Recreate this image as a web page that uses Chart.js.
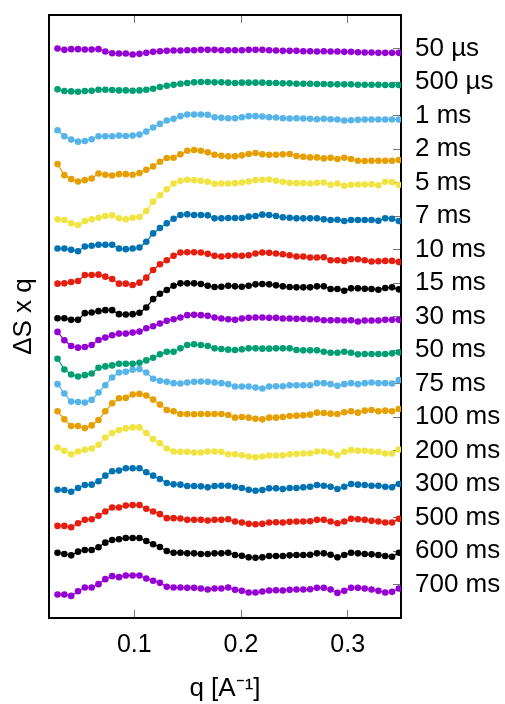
<!DOCTYPE html>
<html><head><meta charset="utf-8">
<script src="https://cdn.jsdelivr.net/npm/chart.js@4/dist/chart.umd.min.js"></script>
<style>html,body{margin:0;padding:0;background:#fff}canvas{display:block}</style>
</head><body>
<canvas id="c" width="505" height="704"></canvas>
<script>
// scattering vector q [1/A]
const q = [0.0280,0.0344,0.0408,0.0472,0.0536,0.0600,0.0664,0.0728,0.0792,0.0856,0.0920,0.0984,0.1048,0.1112,0.1176,0.1240,0.1304,0.1368,0.1432,0.1496,0.1560,0.1624,0.1688,0.1752,0.1816,0.1880,0.1944,0.2008,0.2072,0.2136,0.2200,0.2264,0.2328,0.2392,0.2456,0.2520,0.2584,0.2648,0.2712,0.2776,0.2840,0.2904,0.2968,0.3032,0.3096,0.3160,0.3224,0.3288,0.3352,0.3416,0.3480];

// time delays (right axis tick labels), top to bottom
const delays = ['50 µs','500 µs','1 ms','2 ms','5 ms','7 ms','10 ms','15 ms','30 ms','50 ms','75 ms','100 ms','200 ms','300 ms','500 ms','600 ms','700 ms'];

// x axis tick labels
const xTicks = [0.1, 0.2, 0.3];

// ΔS·q difference curves (before vertical offset)
const s50us = [0,-.04,-.02,-.02,-.03,-.03,-.02,-.09,-.14,-.15,-.15,-.18,-.16,-.13,-.10,-.08,-.07,-.06,-.06,-.05,-.05,-.04,-.04,-.04,-.05,-.05,-.05,-.05,-.04,-.04,-.04,-.05,-.06,-.07,-.07,-.07,-.08,-.08,-.09,-.08,-.09,-.09,-.10,-.10,-.11,-.12,-.12,-.13,-.13,-.13,-.13];
const s500us = [-.22,-.27,-.28,-.29,-.27,-.26,-.23,-.23,-.24,-.25,-.25,-.26,-.25,-.23,-.20,-.15,-.11,-.08,-.05,-.03,-.01,0,0,-.01,-.01,-.02,-.03,-.02,-.02,-.02,-.02,-.03,-.03,-.04,-.04,-.05,-.05,-.05,-.06,-.06,-.07,-.07,-.07,-.07,-.08,-.08,-.08,-.08,-.09,-.09,-.09];
const s1ms = [-.44,-.62,-.72,-.78,-.76,-.71,-.62,-.62,-.62,-.60,-.61,-.60,-.57,-.48,-.36,-.25,-.15,-.10,-.02,.03,.03,.03,.02,-.05,-.07,-.08,-.08,-.05,-.02,-.02,-.03,-.05,-.06,-.08,-.09,-.08,-.09,-.10,-.11,-.10,-.11,-.12,-.15,-.14,-.13,-.12,-.12,-.12,-.12,-.12,-.12];
const s2ms = [-.45,-.78,-.90,-.97,-.93,-.88,-.73,-.77,-.79,-.75,-.75,-.77,-.72,-.62,-.52,-.38,-.27,-.26,-.16,-.05,-.03,-.05,-.10,-.17,-.20,-.22,-.22,-.19,-.15,-.12,-.16,-.17,-.17,-.16,-.15,-.21,-.23,-.25,-.25,-.28,-.26,-.30,-.26,-.30,-.35,-.36,-.35,-.35,-.35,-.35,-.33];
const s5ms = [-1.10,-1.12,-1.22,-1.27,-1.15,-1.10,-1.05,-1.00,-.98,-1.07,-1.10,-1.05,-1.03,-.85,-.57,-.38,-.20,-.03,.05,.08,.07,.05,.02,-.04,-.03,-.03,-.02,0,.03,.07,.08,.09,.05,.02,-.01,-.02,-.02,-.03,-.01,0,-.07,-.03,-.10,-.07,-.06,-.06,-.05,-.08,.02,.01,-.07];
const s7ms = [-.97,-.97,-1.01,-1.05,-.91,-.89,-.86,-.86,-.86,-.97,-.99,-.97,-.94,-.77,-.52,-.36,-.22,-.08,.03,.05,.03,.03,.02,-.07,-.07,-.06,-.06,-.06,-.02,0,.04,.03,0,-.04,-.05,-.07,-.07,-.07,-.07,-.10,-.12,-.11,-.15,-.12,-.12,-.12,-.12,-.14,-.07,-.08,-.15];
const s10ms = [-1.02,-1.01,-.97,-.94,-.76,-.76,-.75,-.81,-.88,-1.02,-1.02,-1.06,-.99,-.84,-.61,-.44,-.32,-.19,-.09,-.08,-.08,-.09,-.13,-.19,-.21,-.19,-.18,-.19,-.17,-.12,-.09,-.10,-.12,-.14,-.17,-.21,-.21,-.24,-.24,-.23,-.32,-.32,-.34,-.29,-.29,-.32,-.36,-.35,-.34,-.34,-.37];
const s15ms = [-1.05,-1.05,-1.10,-1.10,-.90,-.88,-.84,-.81,-.81,-.93,-.94,-.93,-.89,-.73,-.48,-.32,-.21,-.08,-.01,-.01,-.01,-.03,-.08,-.12,-.11,-.08,-.10,-.11,-.08,-.04,-.03,-.04,-.07,-.10,-.12,-.13,-.13,-.13,-.10,-.10,-.18,-.18,-.23,-.16,-.16,-.17,-.18,-.20,-.15,-.13,-.19];
const s30ms = [-.46,-.71,-.88,-.93,-.91,-.85,-.70,-.63,-.56,-.51,-.51,-.48,-.45,-.35,-.29,-.21,-.13,-.08,-.03,.04,.05,.04,.02,-.03,-.06,-.08,-.10,-.06,-.04,-.03,-.03,-.04,-.04,-.06,-.06,-.07,-.07,-.08,-.08,-.11,-.11,-.11,-.12,-.11,-.15,-.12,-.12,-.12,-.10,-.10,-.10];
const s50ms = [-.26,-.58,-.73,-.79,-.75,-.70,-.53,-.49,-.46,-.41,-.41,-.41,-.38,-.31,-.23,-.13,-.05,-.05,.05,.15,.17,.15,.12,.05,.03,.01,0,.02,.05,.05,.04,.04,.05,.05,.05,0,-.01,-.01,-.01,-.05,-.08,-.08,-.05,-.08,-.13,-.12,-.12,-.12,-.12,-.10,-.07];
const s75ms = [-.02,-.30,-.54,-.55,-.57,-.49,-.27,-.05,.18,.33,.35,.41,.43,.33,.14,.08,.05,.01,0,.03,.05,.06,.05,.03,.01,-.02,-.09,-.09,-.09,-.12,-.15,-.09,-.08,-.08,-.05,-.05,-.05,-.05,.01,.01,-.02,-.07,-.02,.01,-.02,.01,.03,.01,.01,0,.10];
const s100ms = [.17,-.07,-.27,-.27,-.33,-.25,-.09,.17,.41,.56,.57,.67,.69,.64,.52,.37,.21,.17,.09,.09,.08,.09,.09,.09,.09,.06,-.02,0,-.02,-.05,-.07,-.02,-.02,0,.03,.04,.05,.07,.13,.12,.10,.09,.14,.17,.13,.19,.21,.17,.19,.17,.24];
const s200ms = [.09,-.01,-.11,-.03,.02,.06,.17,.39,.52,.61,.66,.69,.69,.52,.34,.22,.06,-.03,-.04,-.04,-.06,-.06,-.03,-.03,-.04,-.11,-.11,-.14,-.18,-.20,-.18,-.15,-.15,-.14,-.11,-.10,-.09,-.08,-.03,-.03,-.07,-.14,-.04,.01,-.01,-.01,-.03,-.04,-.09,-.09,.03];
const s300ms = [-.17,-.18,-.23,-.12,-.03,-.02,.08,.25,.38,.40,.47,.47,.47,.35,.25,.15,.03,-.01,-.02,-.06,-.06,-.07,-.10,-.06,-.05,-.05,-.09,-.12,-.17,-.20,-.18,-.13,-.13,-.15,-.12,-.12,-.10,-.08,-.03,-.05,-.08,-.15,-.08,0,-.02,-.03,-.05,-.05,-.08,-.10,0];
const s500ms = [-.25,-.25,-.29,-.17,-.07,-.05,.05,.18,.30,.30,.36,.37,.37,.26,.18,.10,-.02,-.02,-.03,-.07,-.07,-.07,-.09,-.07,-.07,-.05,-.12,-.15,-.19,-.20,-.19,-.15,-.14,-.15,-.13,-.12,-.12,-.11,-.07,-.07,-.12,-.17,-.12,-.04,-.05,-.07,-.10,-.12,-.15,-.15,-.04];
const s600ms = [-.05,-.09,-.13,-.02,.03,.03,.11,.25,.33,.35,.39,.39,.39,.30,.20,.12,0,-.05,-.05,-.07,-.07,-.09,-.09,-.07,-.07,-.05,-.12,-.14,-.19,-.20,-.19,-.15,-.15,-.15,-.13,-.12,-.12,-.11,-.07,-.07,-.11,-.19,-.12,-.05,-.07,-.09,-.10,-.12,-.15,-.17,-.05];
const s700ms = [-.30,-.30,-.34,-.20,-.09,-.09,.01,.16,.25,.22,.27,.27,.27,.18,.11,.05,-.07,-.09,-.09,-.10,-.10,-.12,-.15,-.12,-.12,-.09,-.16,-.19,-.24,-.24,-.21,-.18,-.17,-.18,-.16,-.15,-.15,-.14,-.10,-.10,-.15,-.25,-.19,-.10,-.10,-.12,-.15,-.19,-.24,-.22,-.12];

const series = [s50us,s500us,s1ms,s2ms,s5ms,s7ms,s10ms,s15ms,s30ms,s50ms,s75ms,s100ms,s200ms,s300ms,s500ms,s600ms,s700ms];
const colors = ['#9400D3','#009E73','#56B4E9','#E69F00','#F0E442','#0072B2','#E51E10','#000000'];

const FONT = '"Liberation Sans", Arial, Helvetica, sans-serif';
const N = delays.length;

const datasets = series.map((vals, k) => ({
  label: delays[k],
  data: vals.map((v, i) => ({x: q[i], y: (N - 1 - k) + v})),
  borderColor: colors[k % colors.length],
  backgroundColor: colors[k % colors.length],
  borderWidth: 1.2,
  pointRadius: 3.3,
  pointBorderWidth: 0,
  pointHoverRadius: 3.3,
  tension: 0
}));

const tickGrid = {display: true, drawOnChartArea: false, drawTicks: true, tickLength: -8, color: '#777', lineWidth: 1};
const blackBorder = {display: true, color: '#000', width: 2};
function fix(size, horiz) {
  return s => {
    if (horiz) s.height = size; else s.width = size;
    s.paddingTop = 0; s.paddingBottom = 0; s.paddingLeft = 0; s.paddingRight = 0;
  };
}

new Chart(document.getElementById('c'), {
  type: 'line',
  data: {datasets},
  options: {
    responsive: false,
    animation: false,
    devicePixelRatio: 1,
    layout: {padding: 0},
    plugins: {legend: {display: false}, tooltip: {enabled: false}},
    scales: {
      x: {
        type: 'linear', position: 'bottom', min: 0.02, max: 0.35,
        afterBuildTicks: s => { s.ticks = xTicks.map(v => ({value: v})); },
        ticks: {font: {family: FONT, size: 25}, color: '#000', padding: 20, maxRotation: 0, callback: v => v.toFixed(1)},
        grid: tickGrid,
        border: blackBorder,
        title: {display: true, text: 'q [A⁻¹]', font: {family: FONT, size: 26}, color: '#000', padding: {top: 0, bottom: 0}},
        afterFit: fix(86, true)
      },
      xTop: {
        type: 'linear', position: 'top', min: 0.02, max: 0.35,
        afterBuildTicks: s => { s.ticks = xTicks.map(v => ({value: v})); },
        ticks: {display: false},
        grid: tickGrid,
        border: blackBorder,
        afterFit: fix(15, true)
      },
      y: {
        type: 'linear', position: 'left', min: -1, max: N,
        ticks: {display: false},
        grid: {display: true, drawOnChartArea: false, drawTicks: false},
        border: blackBorder,
        title: {display: true, text: 'ΔS x q', font: {family: FONT, size: 26}, color: '#000', padding: {top: 8, bottom: 0}},
        afterFit: fix(49, false)
      },
      yRight: {
        type: 'linear', position: 'right', min: -1, max: N,
        afterBuildTicks: s => { s.ticks = delays.map((_, k) => ({value: N - 1 - k})); },
        ticks: {font: {family: FONT, size: 26}, color: '#000', padding: 22, callback: v => delays[N - 1 - v]},
        grid: tickGrid,
        border: blackBorder,
        afterFit: fix(104, false)
      }
    }
  }
});
</script>
</body></html>
